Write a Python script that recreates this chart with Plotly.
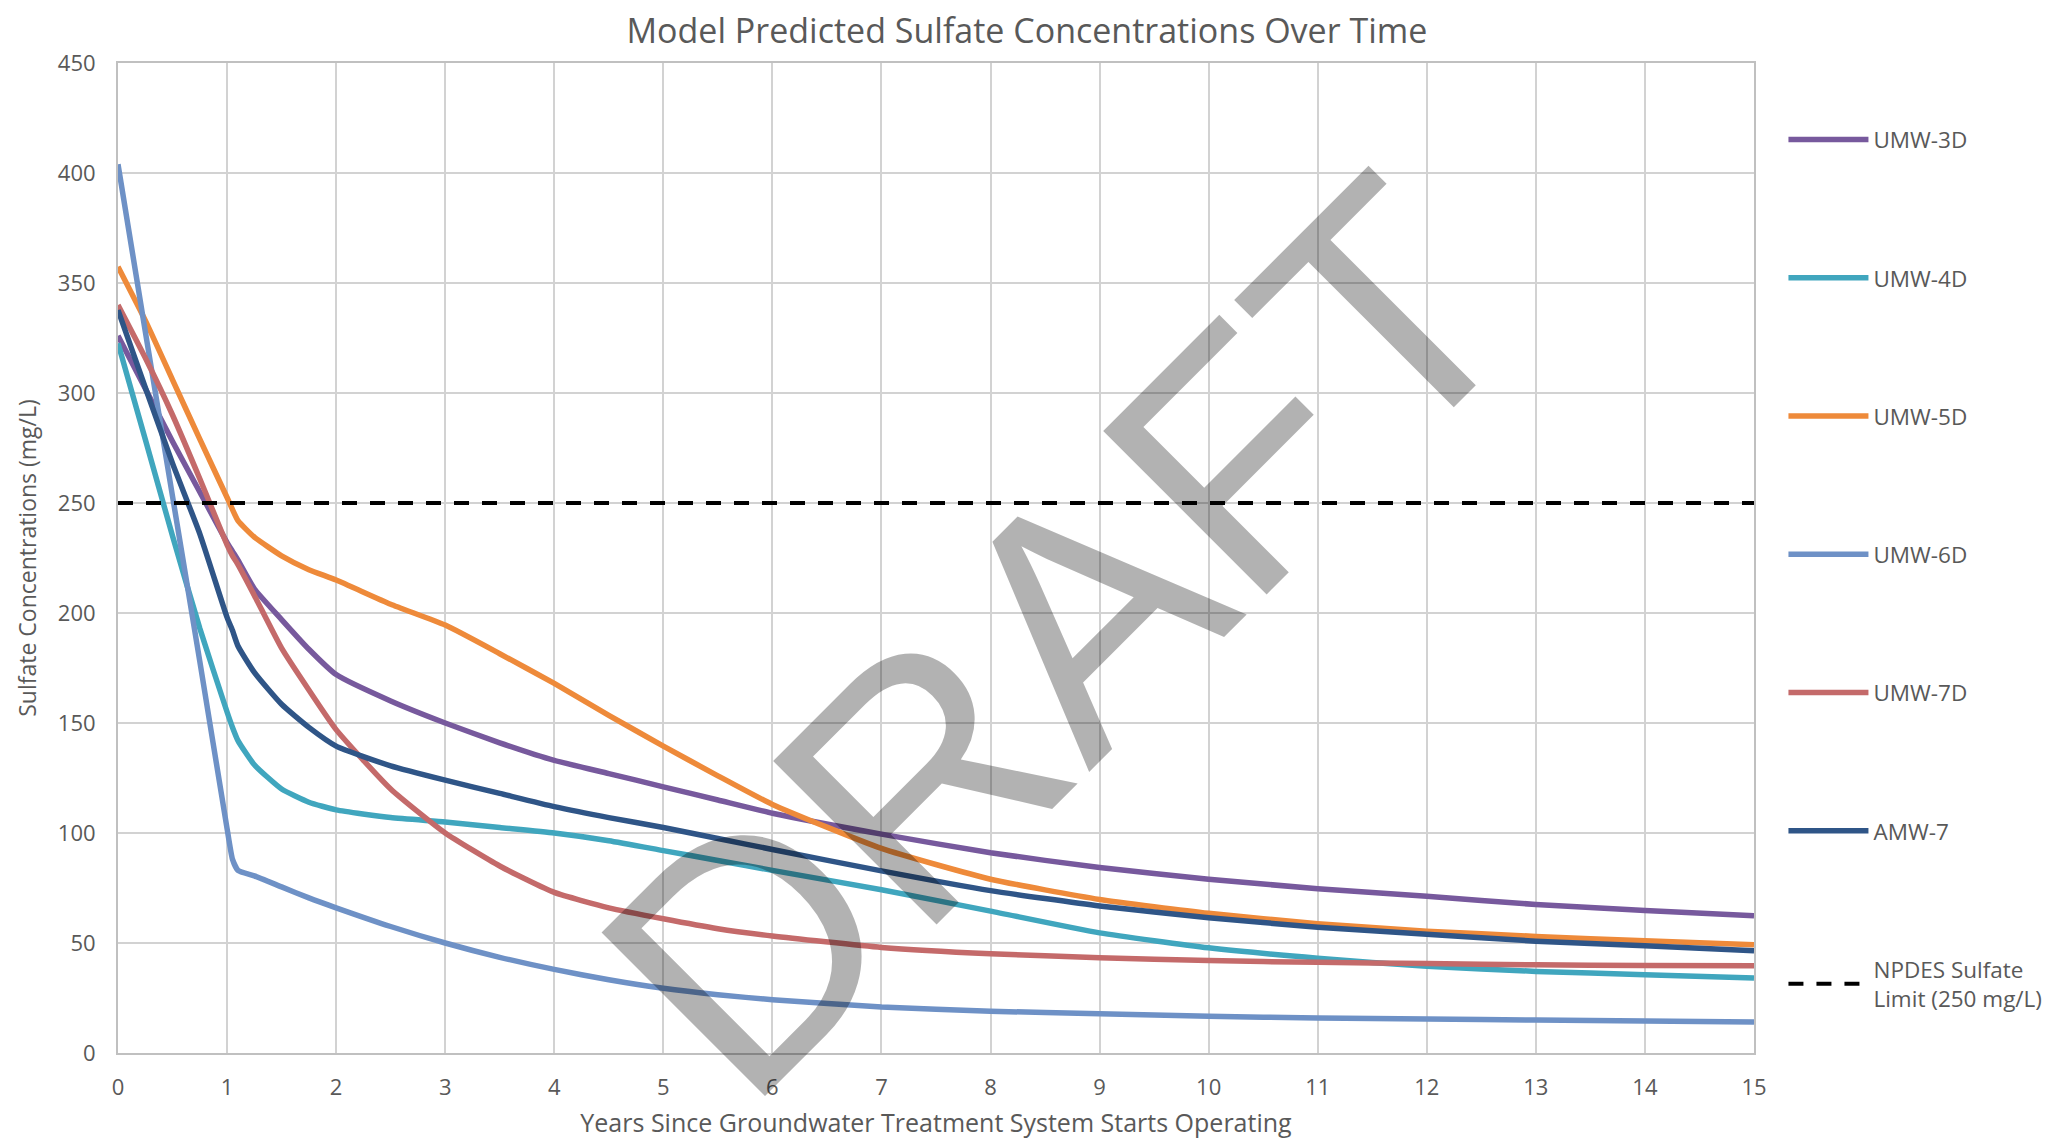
import plotly.graph_objects as go

# ---- data ----
YEARS = [0, 0.25, 0.5, 0.75, 1.0, 1.05, 1.1, 1.25, 1.5, 1.75, 2, 2.5, 3, 3.5, 4,
         4.5, 5, 5.5, 6, 7, 8, 9, 10, 11, 12, 13, 14, 15]

UMW_3D = [326, 302, 278, 255, 232, 228, 224, 211, 197, 183.5, 172, 160, 150, 141, 133,
          127, 121, 115, 109, 99.5, 91, 84.3, 79, 74.7, 71.2, 67.5, 64.8, 62.4]
UMW_4D = [322.6, 279, 235, 193, 155, 148, 142, 131, 120, 114, 110.5, 107, 105, 102.5, 100,
          96.5, 92, 87.5, 83, 74.2, 64.5, 54.6, 47.8, 43.1, 39.4, 37.1, 35.6, 34.1]
UMW_5D = [357.4, 333, 306, 279, 252.5, 247, 242, 234.5, 226, 219.7, 215, 204, 194.5, 181.5, 168,
          153.5, 139.5, 126, 113, 93, 79, 69.8, 63.5, 58.8, 55.4, 53, 51, 49.2]
UMW_6D = [404, 328, 253, 178, 102, 88, 83, 80.5, 75.5, 70.5, 66, 57.5, 50, 43.5, 38,
          33.3, 29.4, 26.5, 24.2, 20.9, 19.0, 17.8, 16.7, 15.9, 15.4, 15, 14.5, 14.1]
UMW_7D = [340, 316, 290, 261, 231, 226, 222, 208, 184, 165, 147, 120, 100, 85, 73,
          66, 61, 56.5, 53.2, 48, 45.1, 43.3, 42, 41.2, 40.7, 40.1, 39.8, 39.7]
AMW_7 = [337.7, 302.5, 268, 236, 198, 192, 185, 173, 158.5, 148, 139.5, 130.5, 124, 118, 112,
         107, 102.5, 97.5, 92.5, 82.8, 73.8, 66.8, 61.5, 57.2, 54, 50.8, 48.7, 46.5]

SERIES_NAMES = ["UMW-3D", "UMW-4D", "UMW-5D", "UMW-6D", "UMW-7D", "AMW-7"]
SERIES_VALUES = [UMW_3D, UMW_4D, UMW_5D, UMW_6D, UMW_7D, AMW_7]
SERIES_COLORS = ["#77599d", "#40a6be", "#ee8a3a", "#6e91c6", "#c46a6a", "#2f5587"]

LIMIT_NAME = "NPDES Sulfate<br>Limit (250 mg/L)"
LIMIT_X = [0, 15]
LIMIT_Y = [250, 250]

TITLE = "Model Predicted Sulfate Concentrations Over Time"
X_TITLE = "Years Since Groundwater Treatment System Starts Operating"
Y_TITLE = "Sulfate Concentrations (mg/L)"
WATERMARK = "DRAFT"

FONT = "Open Sans"
TEXT_COLOR = "#595959"
GRID_COLOR = "#d2d2d2"

fig = go.Figure()
for i, (name, vals, col) in enumerate(zip(SERIES_NAMES, SERIES_VALUES, SERIES_COLORS)):
    fig.add_trace(go.Scatter(
        x=YEARS, y=vals, name=name, mode="lines",
        line=dict(color=col, width=5.5, shape="spline", smoothing=0.5),
        legendgroup=f"g{i}",
    ))
fig.add_trace(go.Scatter(
    x=LIMIT_X, y=LIMIT_Y, name=LIMIT_NAME, mode="lines",
    line=dict(color="black", width=4, dash="15px,13px"),
    legendgroup="glimit",
))

fig.add_annotation(
    text=WATERMARK, xref="paper", yref="paper", x=0.575, y=0.42,
    xanchor="center", yanchor="middle", textangle=-45, showarrow=False,
    font=dict(family="Liberation Sans", size=336, color="rgba(0,0,0,0.3)"),
)

fig.update_layout(
    width=2046, height=1133,
    margin=dict(l=110, r=300, t=55, b=88, autoexpand=False),
    paper_bgcolor="white", plot_bgcolor="white",
    font=dict(family=FONT, color=TEXT_COLOR, size=22),
    title=dict(text=TITLE, x=0.498, xanchor="center", xref="container",
               y=0.98, yanchor="middle", yref="container",
               font=dict(family=FONT, size=34, color=TEXT_COLOR)),
    legend=dict(x=1.018, xanchor="left", y=0.944, yanchor="top",
                tracegroupgap=106, itemwidth=80,
                font=dict(family=FONT, size=22.5, color=TEXT_COLOR),
                bgcolor="rgba(0,0,0,0)"),
    showlegend=True,
)
fig.update_xaxes(
    range=[0, 15], dtick=1, tick0=0,
    showgrid=True, gridcolor=GRID_COLOR, gridwidth=2,
    showline=True, linecolor="#c0c0c0", linewidth=2, mirror=True,
    zeroline=False, ticks="", ticklabelstandoff=14,
    tickfont=dict(family=FONT, size=22, color=TEXT_COLOR),
    title=dict(text=X_TITLE, standoff=14, font=dict(family=FONT, size=25, color=TEXT_COLOR)),
)
fig.update_yaxes(
    range=[0, 450], dtick=50, tick0=0,
    showgrid=True, gridcolor=GRID_COLOR, gridwidth=2,
    showline=True, linecolor="#c0c0c0", linewidth=2, mirror=True,
    zeroline=False, ticks="", ticklabelstandoff=16,
    tickfont=dict(family=FONT, size=22, color=TEXT_COLOR),
    title=dict(text=Y_TITLE, standoff=15, font=dict(family=FONT, size=23, color=TEXT_COLOR)),
)

fig.write_html("out.html")
